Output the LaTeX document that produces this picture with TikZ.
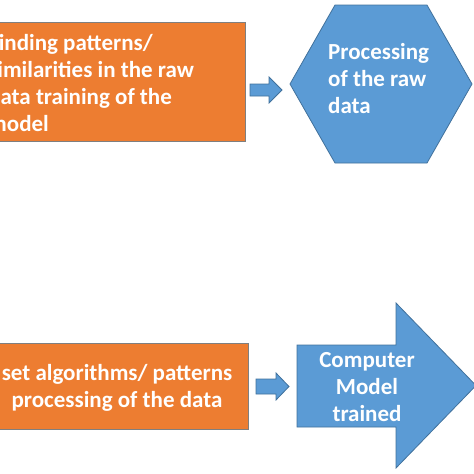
\documentclass[tikz,border=0pt]{standalone}
\usepackage{fontspec}
\setmainfont{Carlito}
\definecolor{boxorange}{HTML}{ED7D31}
\definecolor{boxline}{HTML}{7F7F7F}
\definecolor{shapeblue}{HTML}{5B9BD5}
\definecolor{blueline}{HTML}{41719C}

\begin{document}
\begin{tikzpicture}[x=1pt,y=-1pt,
  orangebox/.style={fill=boxorange,draw=boxline,line width=0.8pt,inner sep=0pt},
  blueshape/.style={fill=shapeblue,draw=blueline,line width=0.8pt},
  whitetext/.style={text=white,font=\bfseries\fontsize{23}{27}\selectfont,inner sep=0pt}]
\useasboundingbox (0,0) rectangle (474,474);
\clip (0,0) rectangle (474,474);
% orange boxes
\node[orangebox,anchor=north east,minimum width=270pt,minimum height=119pt] (findbox) at (246,22) {};
\node[orangebox,anchor=north east,minimum width=273pt,minimum height=86pt] (setbox) at (249,343) {};
% small arrows
\draw[blueshape] (250,84)--(269,84)--(269,77)--(282,90)--(269,103)--(269,96)--(250,96)--cycle;
\draw[blueshape] (256,379)--(276,379)--(276,373)--(289,386.5)--(276,400)--(276,394)--(256,394)--cycle;
% hexagon and big arrow
\draw[blueshape] (290,84)--(335,5)--(427,5)--(472,84)--(427,163)--(335,163)--cycle;
\draw[blueshape] (297,345)--(396,345)--(396,303)--(476,385.5)--(396,468)--(396,427)--(297,427)--cycle;
% texts
\node[whitetext,anchor=west,align=left] (findtext) at (-12,83) {Finding patterns/\\similarities in the raw\\data training of the\\model};
\node[whitetext,anchor=west,align=left] (rawtext) at (328,79) {Processing\\of the raw\\data};
\node[whitetext,align=center] (settext) at (117,388) {set algorithms/ patterns\\processing of the data};
\node[whitetext,align=center] (modeltext) at (367,387) {Computer\\Model\\trained};
\end{tikzpicture}
\end{document}
